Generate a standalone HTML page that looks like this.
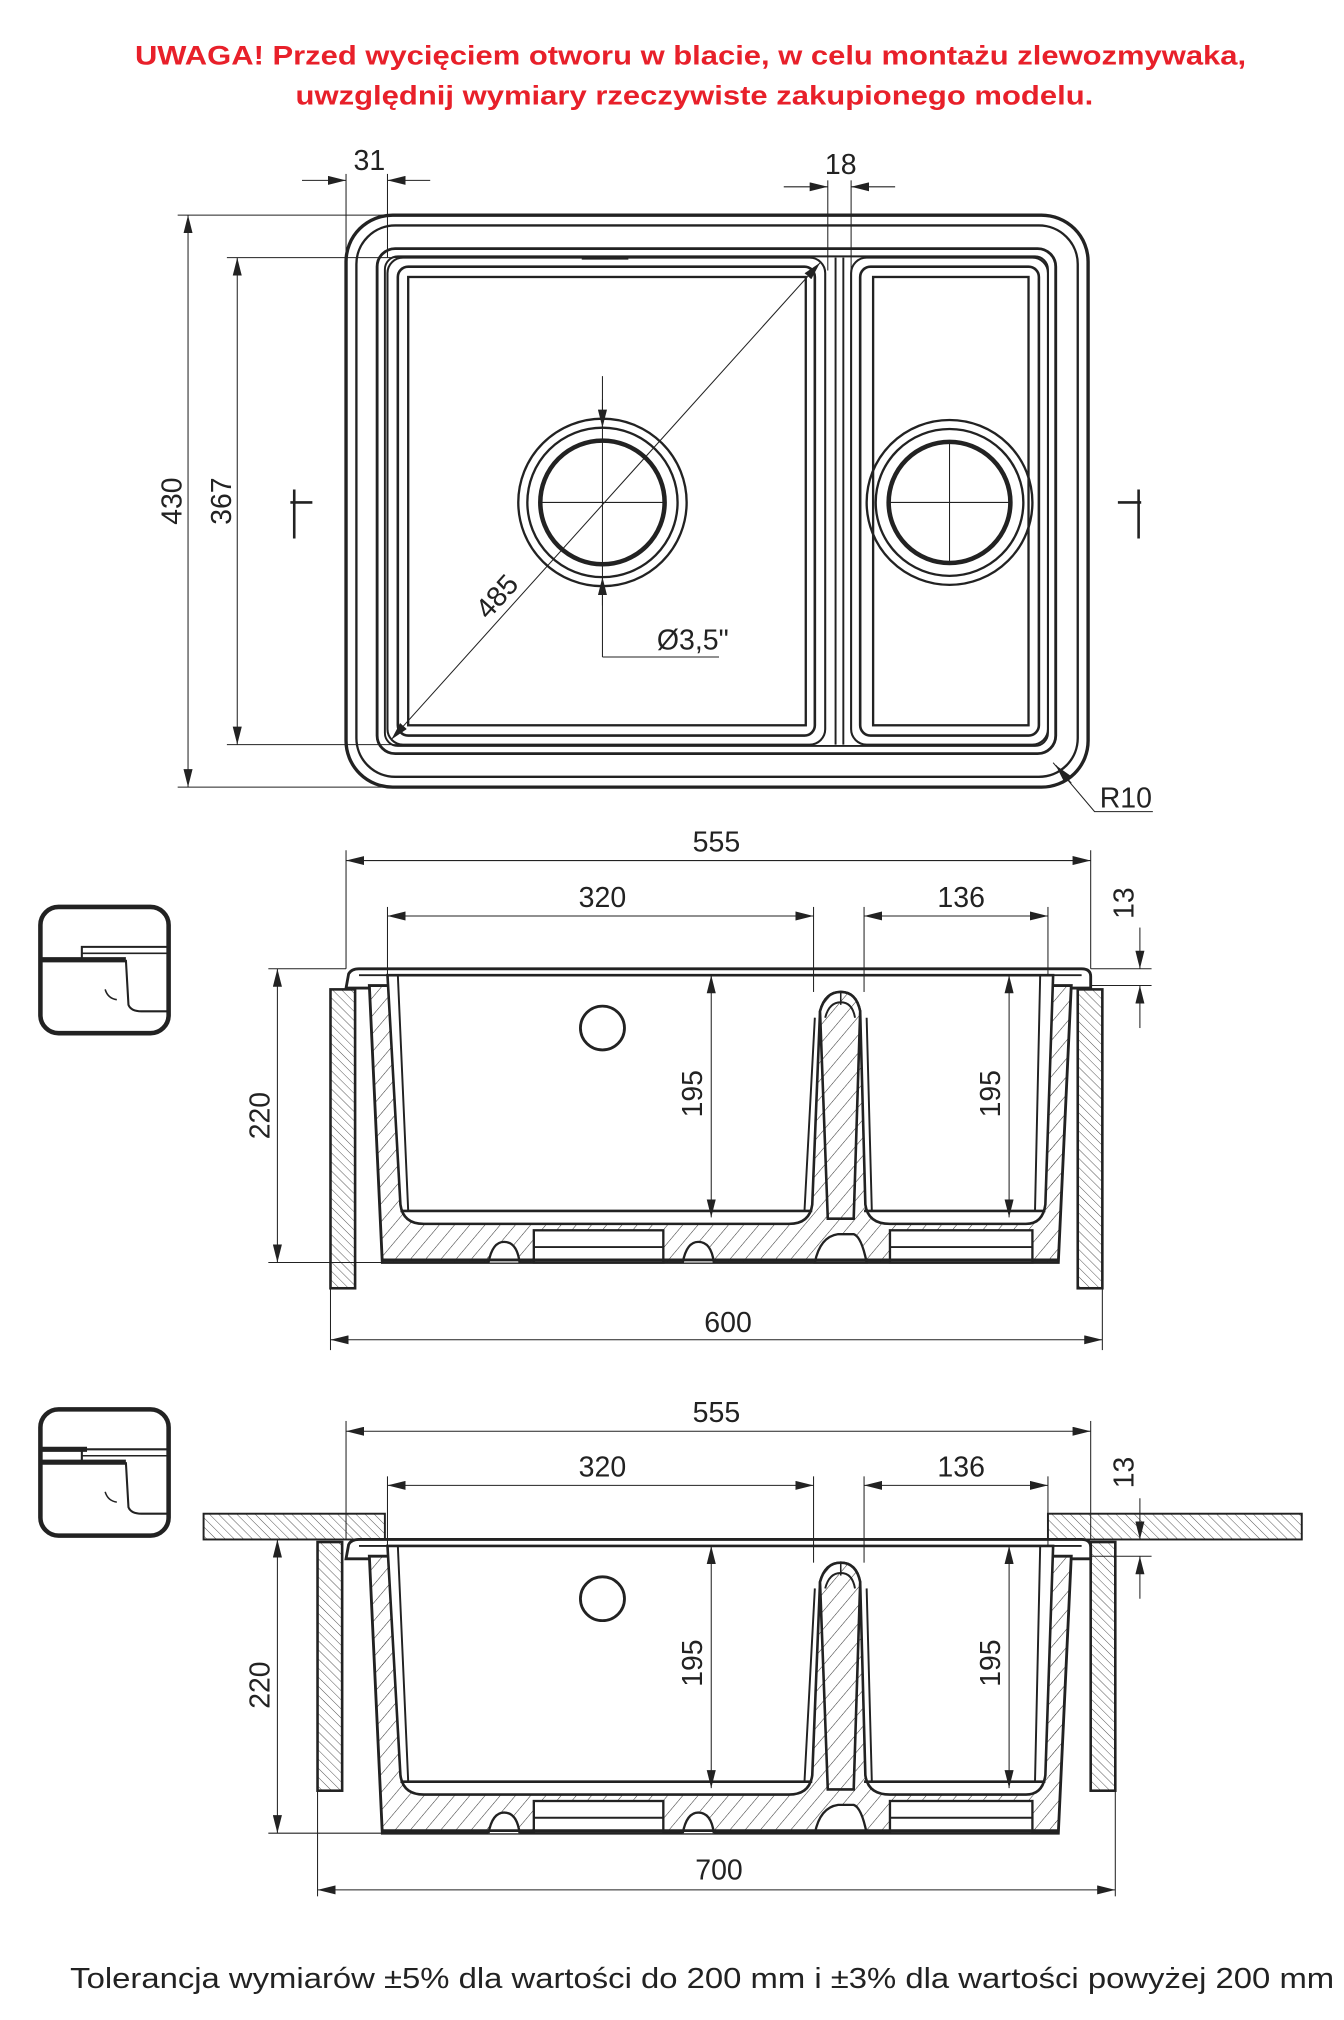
<!DOCTYPE html>
<html><head><meta charset="utf-8"><style>
html,body{margin:0;padding:0;background:#fff}
svg{display:block}
text{font-family:"Liberation Sans Narrow","Liberation Sans",sans-serif;fill:#222}
</style></head><body>
<svg width="1344" height="2020" viewBox="2.8 0 1037.8 1568" preserveAspectRatio="none" xmlns="http://www.w3.org/2000/svg">
<defs>
<pattern id="h" patternUnits="userSpaceOnUse" width="9" height="9" patternTransform="rotate(40)">
<rect width="9" height="9" fill="#fff"/><line x1="0" y1="0" x2="0" y2="9" stroke="#333" stroke-width="0.8"/></pattern>
<pattern id="h2" patternUnits="userSpaceOnUse" width="5" height="5" patternTransform="rotate(-45)">
<rect width="5" height="5" fill="#fff"/><line x1="0" y1="0" x2="0" y2="5" stroke="#444" stroke-width="0.7"/></pattern>
<marker id="a" viewBox="0 0 14 7" refX="14" refY="3.5" markerWidth="14" markerHeight="7" orient="auto-start-reverse" markerUnits="userSpaceOnUse"><path d="M0,0L14,3.5L0,7z" fill="#222"/></marker>
<g id="sink">
 <path d="M270,767 L272,756 Q274,752 280,752 L838,752 Q845,752 845,758 L845,767 Z" fill="#fff" stroke="#222" stroke-width="2.2"/>
 <line x1="280" y1="757" x2="838" y2="757" stroke="#222" stroke-width="1.5"/>
 <path d="M288,765 L298,980 L820,980 L830,765 Z" fill="url(#h)" stroke="#222" stroke-width="2.2"/>
 <path d="M302,757 L312,935 Q314,950 330,950 L612,950 Q628,950 630,935 L636,785 Q640,770 652,770 Q664,770 667,785 L671,935 Q673,950 690,950 L795,950 Q808,950 810,935 L816,757 Z" fill="#fff" stroke="#222" stroke-width="2"/>
 <path d="M636,785 Q640,770 652,770 Q664,770 667,785 L662,946 L642,946 Z" fill="url(#h)" stroke="#222" stroke-width="2"/>
 <path d="M640,790 Q643,778 652,778 Q661,778 663,790" fill="none" stroke="#222" stroke-width="1.5"/>
 <line x1="652" y1="770" x2="652" y2="780" stroke="#222" stroke-width="1.2"/>
 <path d="M310,757 L318,940 M624,940 L632,790" stroke="#222" stroke-width="1.5"/>
 <line x1="312" y1="940" x2="630" y2="940" stroke="#222" stroke-width="2"/>
 <path d="M672,790 L676,940 M806,757 L802,940" stroke="#222" stroke-width="1.5" fill="none"/>
 <line x1="670" y1="940" x2="810" y2="940" stroke="#222" stroke-width="2"/>
 <rect x="415" y="955" width="100" height="25" fill="#fff" stroke="#222" stroke-width="1.8"/>
 <line x1="415" y1="968" x2="515" y2="968" stroke="#222" stroke-width="1.5"/>
 <rect x="690" y="955" width="110" height="25" fill="#fff" stroke="#222" stroke-width="1.8"/>
 <line x1="690" y1="968" x2="800" y2="968" stroke="#222" stroke-width="1.5"/>
 <path d="M380,980 Q383,964 392,964 Q402,964 404,980" fill="#fff" stroke="#222" stroke-width="1.8"/>
 <path d="M530,980 Q533,964 542,964 Q552,964 554,980" fill="#fff" stroke="#222" stroke-width="1.8"/>
 <path d="M632,980 Q636,960 650,958 L662,958 Q668,960 672,980 Z" fill="#fff" stroke="#222" stroke-width="1.8"/>
 <line x1="298" y1="978" x2="820" y2="978" stroke="#222" stroke-width="2.2"/>
 <circle cx="468" cy="798" r="17" fill="none" stroke="#222" stroke-width="2.2"/>
</g>
<g id="icon">
 <rect x="34" y="704" width="99" height="98" rx="14" fill="#fff" stroke="#222" stroke-width="3.5"/>
 <path d="M34,745 L100,745" stroke="#222" stroke-width="4"/>
 <path d="M66,745 L66,735 L133,735 M100,745 L102,780 Q104,785 112,785 L133,785" fill="none" stroke="#222" stroke-width="1.6"/>
 <path d="M66,740 L133,740" stroke="#222" stroke-width="1.2"/>
 <path d="M84,768 Q86,775 93,776" fill="none" stroke="#222" stroke-width="1.2"/>
</g>
</defs>

<text x="536" y="50" text-anchor="middle" textLength="858" lengthAdjust="spacingAndGlyphs" style="font-family:'Liberation Sans',sans-serif;font-weight:bold;font-size:21px;fill:#e8202a">UWAGA! Przed wycięciem otworu w blacie, w celu montażu zlewozmywaka,</text>
<text x="539" y="81" text-anchor="middle" textLength="616" lengthAdjust="spacingAndGlyphs" style="font-family:'Liberation Sans',sans-serif;font-weight:bold;font-size:21px;fill:#e8202a">uwzględnij wymiary rzeczywiste zakupionego modelu.</text>

<g fill="none" stroke="#222">
 <rect x="270" y="167" width="573" height="444" rx="36" stroke-width="2.6"/>
 <rect x="278" y="175" width="557" height="428" rx="30" stroke-width="1.8"/>
 <rect x="294" y="193" width="524" height="392" rx="14" stroke-width="2.2"/>
 <rect x="300" y="199" width="512" height="380" rx="10" stroke-width="1.5"/>
 <rect x="302" y="200" width="338" height="378" rx="12" stroke-width="1.6"/>
 <rect x="310" y="207" width="322" height="364" rx="8" stroke-width="2"/>
 <rect x="318" y="215" width="307" height="348" stroke-width="1.8"/>
 <rect x="660" y="200" width="152" height="378" rx="12" stroke-width="1.6"/>
 <rect x="667" y="207" width="138" height="364" rx="8" stroke-width="2"/>
 <rect x="677" y="215" width="120" height="348" stroke-width="1.8"/>
 <line x1="648" y1="200" x2="648" y2="578" stroke-width="1.5"/>
 <line x1="654" y1="200" x2="654" y2="578" stroke-width="1.5"/>
 <path d="M452,200 L488,200" stroke-width="3"/>
 <circle cx="468" cy="390" r="65" stroke-width="1.8"/>
 <circle cx="468" cy="390" r="58" stroke-width="1.8"/>
 <circle cx="468" cy="390" r="48" stroke-width="3.5"/>
 <circle cx="736" cy="390" r="64" stroke-width="1.8"/>
 <circle cx="736" cy="390" r="57" stroke-width="1.8"/>
 <circle cx="736" cy="390" r="47" stroke-width="3.5"/>
 <g stroke-width="0.8">
  <line x1="420" y1="390" x2="516" y2="390"/><line x1="468" y1="292" x2="468" y2="510"/><line x1="468" y1="510" x2="558" y2="510"/>
  <line x1="690" y1="390" x2="782" y2="390"/><line x1="736" y1="342" x2="736" y2="438"/>
  <line x1="305" y1="574" x2="636" y2="204" marker-start="url(#a)" marker-end="url(#a)"/>
  <line x1="468" y1="310" x2="468" y2="332" marker-end="url(#a)"/>
  <line x1="468" y1="470" x2="468" y2="448" marker-end="url(#a)"/>
  <line x1="140" y1="167" x2="300" y2="167"/><line x1="140" y1="611" x2="300" y2="611"/>
  <line x1="148" y1="167" x2="148" y2="611" marker-start="url(#a)" marker-end="url(#a)"/>
  <line x1="178" y1="200" x2="320" y2="200"/><line x1="178" y1="578" x2="320" y2="578"/>
  <line x1="186" y1="200" x2="186" y2="578" marker-start="url(#a)" marker-end="url(#a)"/>
  <line x1="270" y1="135" x2="270" y2="200"/><line x1="302" y1="135" x2="302" y2="200"/>
  <line x1="236" y1="140" x2="270" y2="140" marker-end="url(#a)"/><line x1="335" y1="140" x2="302" y2="140" marker-end="url(#a)"/>
  <line x1="642" y1="140" x2="642" y2="210"/><line x1="660" y1="140" x2="660" y2="210"/>
  <line x1="608" y1="145" x2="642" y2="145" marker-end="url(#a)"/><line x1="694" y1="145" x2="660" y2="145" marker-end="url(#a)"/>
  <polyline points="893,630 848,630 816,592"/>
  <line x1="830" y1="608" x2="818" y2="594" marker-end="url(#a)"/>
 </g>
 <path d="M227,390 L244,390 M230,380 L230,418" stroke-width="2"/>
 <path d="M866,390 L884,390 M882,380 L882,418" stroke-width="2"/>
</g>
<text x="288" y="132" font-size="22" text-anchor="middle">31</text>
<text x="652" y="135" font-size="22" text-anchor="middle">18</text>
<text x="143" y="389" font-size="22" text-anchor="middle" transform="rotate(-90 143 389)">430</text>
<text x="181" y="389" font-size="22" text-anchor="middle" transform="rotate(-90 181 389)">367</text>
<text x="392" y="468" font-size="22" text-anchor="middle" transform="rotate(-48 392 468)">485</text>
<text x="510" y="504" font-size="22">Ø3,5"</text>
<text x="852" y="627" font-size="22">R10</text>

<use href="#icon"/>
<rect x="258" y="768" width="19" height="232" fill="url(#h2)" stroke="#222" stroke-width="2"/>
<rect x="835" y="768" width="19" height="232" fill="url(#h2)" stroke="#222" stroke-width="2"/>
<use href="#sink"/>
<g fill="none" stroke="#222" stroke-width="0.8">
 <line x1="270" y1="660" x2="270" y2="752"/><line x1="845" y1="660" x2="845" y2="752"/>
 <line x1="270" y1="668" x2="845" y2="668" marker-start="url(#a)" marker-end="url(#a)"/>
 <line x1="302" y1="704" x2="302" y2="757"/><line x1="631" y1="704" x2="631" y2="770"/>
 <line x1="302" y1="711" x2="631" y2="711" marker-start="url(#a)" marker-end="url(#a)"/>
 <line x1="670" y1="704" x2="670" y2="770"/><line x1="812" y1="704" x2="812" y2="757"/>
 <line x1="670" y1="711" x2="812" y2="711" marker-start="url(#a)" marker-end="url(#a)"/>
 <line x1="845" y1="752" x2="892" y2="752"/><line x1="845" y1="765" x2="892" y2="765"/>
 <line x1="883" y1="720" x2="883" y2="752" marker-end="url(#a)"/><line x1="883" y1="798" x2="883" y2="765" marker-end="url(#a)"/>
 <line x1="210" y1="752" x2="270" y2="752"/><line x1="210" y1="980" x2="300" y2="980"/>
 <line x1="217" y1="752" x2="217" y2="980" marker-start="url(#a)" marker-end="url(#a)"/>
 <line x1="552" y1="757" x2="552" y2="945" marker-start="url(#a)" marker-end="url(#a)"/>
 <line x1="782" y1="757" x2="782" y2="945" marker-start="url(#a)" marker-end="url(#a)"/>
 <line x1="258" y1="1000" x2="258" y2="1048"/><line x1="854" y1="1000" x2="854" y2="1048"/>
 <line x1="258" y1="1040" x2="854" y2="1040" marker-start="url(#a)" marker-end="url(#a)"/>
</g>
<text x="556" y="661" font-size="22" text-anchor="middle">555</text>
<text x="468" y="704" font-size="22" text-anchor="middle">320</text>
<text x="745" y="704" font-size="22" text-anchor="middle">136</text>
<text x="878" y="701" font-size="22" text-anchor="middle" transform="rotate(-90 878 701)">13</text>
<text x="211" y="866" font-size="22" text-anchor="middle" transform="rotate(-90 211 866)">220</text>
<text x="545" y="849" font-size="22" text-anchor="middle" transform="rotate(-90 545 849)">195</text>
<text x="775" y="849" font-size="22" text-anchor="middle" transform="rotate(-90 775 849)">195</text>
<text x="565" y="1034" font-size="22" text-anchor="middle">600</text>

<use href="#icon" transform="translate(0,390)"/>
<path d="M34,1125 L70,1125" stroke="#222" stroke-width="4"/>
<rect x="160" y="1175" width="140" height="20" fill="url(#h2)" stroke="#222" stroke-width="1.5"/>
<rect x="812" y="1175" width="196" height="20" fill="url(#h2)" stroke="#222" stroke-width="1.5"/>
<rect x="248" y="1197" width="19" height="193" fill="url(#h2)" stroke="#222" stroke-width="2"/>
<rect x="845" y="1197" width="19" height="193" fill="url(#h2)" stroke="#222" stroke-width="2"/>
<use href="#sink" transform="translate(0,443)"/>
<g fill="none" stroke="#222" stroke-width="0.8">
 <line x1="270" y1="1103" x2="270" y2="1195"/><line x1="845" y1="1103" x2="845" y2="1195"/>
 <line x1="270" y1="1111" x2="845" y2="1111" marker-start="url(#a)" marker-end="url(#a)"/>
 <line x1="302" y1="1146" x2="302" y2="1200"/><line x1="631" y1="1146" x2="631" y2="1213"/>
 <line x1="302" y1="1153" x2="631" y2="1153" marker-start="url(#a)" marker-end="url(#a)"/>
 <line x1="670" y1="1146" x2="670" y2="1213"/><line x1="812" y1="1146" x2="812" y2="1200"/>
 <line x1="670" y1="1153" x2="812" y2="1153" marker-start="url(#a)" marker-end="url(#a)"/>
 <line x1="845" y1="1208" x2="892" y2="1208"/>
 <line x1="883" y1="1163" x2="883" y2="1195" marker-end="url(#a)"/><line x1="883" y1="1241" x2="883" y2="1208" marker-end="url(#a)"/>
 <line x1="210" y1="1195" x2="270" y2="1195"/><line x1="210" y1="1423" x2="300" y2="1423"/>
 <line x1="217" y1="1195" x2="217" y2="1423" marker-start="url(#a)" marker-end="url(#a)"/>
 <line x1="552" y1="1200" x2="552" y2="1388" marker-start="url(#a)" marker-end="url(#a)"/>
 <line x1="782" y1="1200" x2="782" y2="1388" marker-start="url(#a)" marker-end="url(#a)"/>
 <line x1="248" y1="1390" x2="248" y2="1472"/><line x1="864" y1="1390" x2="864" y2="1472"/>
 <line x1="248" y1="1467" x2="864" y2="1467" marker-start="url(#a)" marker-end="url(#a)"/>
</g>
<text x="556" y="1104" font-size="22" text-anchor="middle">555</text>
<text x="468" y="1146" font-size="22" text-anchor="middle">320</text>
<text x="745" y="1146" font-size="22" text-anchor="middle">136</text>
<text x="878" y="1143" font-size="22" text-anchor="middle" transform="rotate(-90 878 1143)">13</text>
<text x="211" y="1308" font-size="22" text-anchor="middle" transform="rotate(-90 211 1308)">220</text>
<text x="545" y="1291" font-size="22" text-anchor="middle" transform="rotate(-90 545 1291)">195</text>
<text x="775" y="1291" font-size="22" text-anchor="middle" transform="rotate(-90 775 1291)">195</text>
<text x="558" y="1459" font-size="22" text-anchor="middle">700</text>

<text x="545" y="1543" font-size="22" text-anchor="middle" textLength="976" lengthAdjust="spacingAndGlyphs">Tolerancja wymiarów ±5% dla wartości do 200 mm i ±3% dla wartości powyżej 200 mm</text>
</svg>
</body></html>
